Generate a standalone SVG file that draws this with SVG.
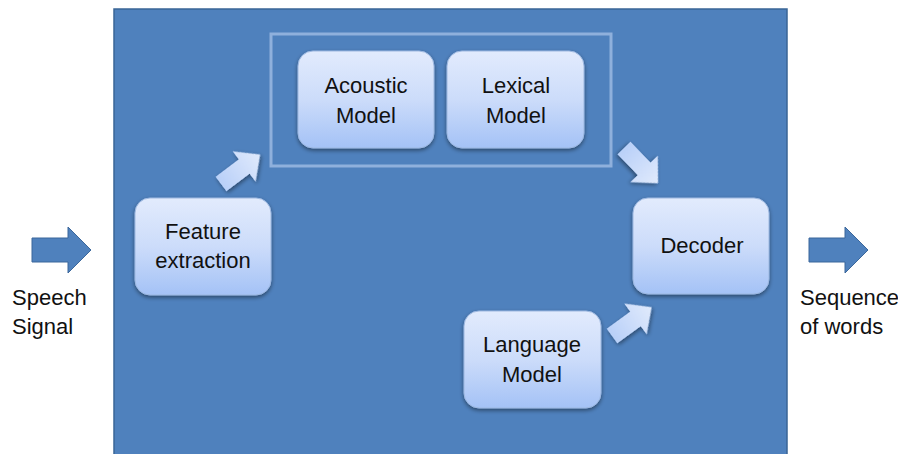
<svg xmlns="http://www.w3.org/2000/svg" width="898" height="454" viewBox="0 0 898 454">
<defs>
<linearGradient id="boxg" x1="0" y1="0" x2="0" y2="1">
<stop offset="0" stop-color="#e2ebfd"/>
<stop offset="0.5" stop-color="#ccdcfa"/>
<stop offset="1" stop-color="#a4c2f6"/>
</linearGradient>
<linearGradient id="arrg" x1="0" y1="0" x2="1" y2="0">
<stop offset="0" stop-color="#b9d0f8"/>
<stop offset="1" stop-color="#e0eafc"/>
</linearGradient>
<filter id="sh" x="-20%" y="-20%" width="140%" height="140%">
<feGaussianBlur in="SourceAlpha" stdDeviation="2"/>
<feOffset dx="0" dy="2" result="b"/>
<feComponentTransfer><feFuncA type="linear" slope="0.45"/></feComponentTransfer>
<feMerge><feMergeNode/><feMergeNode in="SourceGraphic"/></feMerge>
</filter>
<polygon id="diag" points="0,-9 29,-9 29,-19 49,0 29,19 29,9 0,9"/>
<polygon id="bigarr" points="0,11 36,11 36,0 59,23 36,46 36,35 0,35"/>
</defs>
<style>
.box{fill:url(#boxg);stroke:#9db8e0;stroke-width:1;filter:url(#sh)}
.t{font-family:"Liberation Sans",Arial,sans-serif;font-size:22px;fill:#111;text-anchor:middle}
.lbl{font-family:"Liberation Sans",Arial,sans-serif;font-size:22px;fill:#111}
.darr{fill:url(#arrg);filter:url(#sh)}
.barr{fill:#4f81bd;stroke:#3b679b;stroke-width:1}
</style>
<rect width="898" height="454" fill="#ffffff"/>
<rect id="system" x="114" y="9" width="673" height="460" fill="#4f81bd" stroke="#3a6596" stroke-width="1.5"/>
<rect id="modelframe" x="271" y="34" width="340" height="132" fill="none" stroke="#8fb0dc" stroke-width="3"/>
<g id="acoustic"><rect class="box" x="298" y="51" width="136" height="97" rx="15"/><text class="t" x="366" y="93">Acoustic</text><text class="t" x="366" y="123">Model</text></g>
<g id="lexical"><rect class="box" x="447" y="51" width="137" height="97" rx="15"/><text class="t" x="516" y="93">Lexical</text><text class="t" x="516" y="123">Model</text></g>
<g id="feature"><rect class="box" x="135" y="198" width="136" height="97" rx="15"/><text class="t" x="203" y="239">Feature</text><text class="t" x="203" y="268">extraction</text></g>
<g id="decoder"><rect class="box" x="633" y="198" width="136" height="96" rx="15"/><text class="t" x="702" y="253">Decoder</text></g>
<g id="language"><rect class="box" x="464" y="311" width="137" height="97" rx="15"/><text class="t" x="532" y="352">Language</text><text class="t" x="532" y="382">Model</text></g>
<g id="connectors">
<use href="#diag" class="darr" transform="translate(221,184) rotate(-37)"/>
<use href="#diag" class="darr" transform="translate(624,148) rotate(46)"/>
<use href="#diag" class="darr" transform="translate(612,336) rotate(-36)"/>
<use href="#bigarr" class="barr" transform="translate(32,227)"/>
<use href="#bigarr" class="barr" transform="translate(809,227)"/>
</g>
<g id="input"><text class="lbl" x="12" y="305">Speech</text><text class="lbl" x="12" y="334">Signal</text></g>
<g id="output"><text class="lbl" x="800" y="305">Sequence</text><text class="lbl" x="800" y="334">of words</text></g>
</svg>
